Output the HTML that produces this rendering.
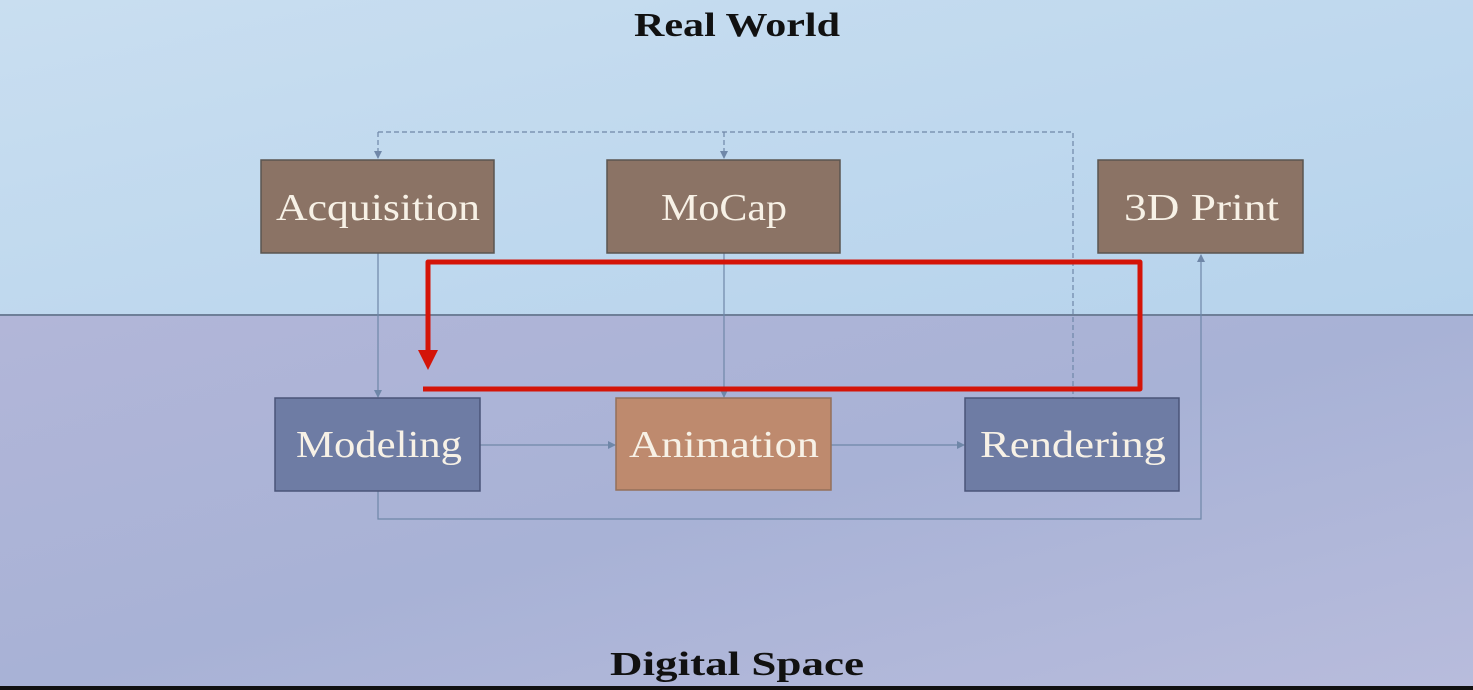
<!DOCTYPE html>
<html><head><meta charset="utf-8"><style>
html,body{margin:0;padding:0;width:1473px;height:690px;overflow:hidden}
svg{display:block}
</style></head><body>
<svg width="1473" height="690" viewBox="0 0 1473 690" xmlns="http://www.w3.org/2000/svg">
<defs>
<linearGradient id="top" x1="0" y1="0" x2="1" y2="1"><stop offset="0" stop-color="#c9def0"/><stop offset="1" stop-color="#b6d3ec"/></linearGradient>
<linearGradient id="bot" x1="0" y1="0" x2="1" y2="1"><stop offset="0" stop-color="#b2b6d8"/><stop offset="0.5" stop-color="#a8b2d6"/><stop offset="1" stop-color="#b8bcdc"/></linearGradient>
<marker id="a" markerWidth="8" markerHeight="8" refX="7" refY="4" orient="auto" markerUnits="userSpaceOnUse"><path d="M0,0 L8,4 L0,8 z" fill="#6f87a8"/></marker>
</defs>
<rect x="0" y="0" width="1473" height="315" fill="url(#top)"/>
<rect x="0" y="315" width="1473" height="375" fill="url(#bot)"/>
<line x1="0" y1="315" x2="1473" y2="315" stroke="#6e7f98" stroke-width="2"/>
<rect x="0" y="686" width="1473" height="4" fill="#111"/>
<g font-family="'Liberation Serif',serif" font-weight="bold" font-size="34" fill="#111" lengthAdjust="spacingAndGlyphs">
<text x="634" y="36" textLength="206" lengthAdjust="spacingAndGlyphs">Real World</text>
<text x="610" y="675" textLength="254" lengthAdjust="spacingAndGlyphs">Digital Space</text>
</g>
<g fill="none" stroke="#6f87a8" stroke-width="1.2">
<path d="M378,132 H1073 V398" stroke-dasharray="5,3"/>
<path d="M378,132 V158" stroke-dasharray="5,3" marker-end="url(#a)"/>
<path d="M724,132 V158" stroke-dasharray="5,3" marker-end="url(#a)"/>
<path d="M378,253 V397" marker-end="url(#a)"/>
<path d="M724,253 V397" marker-end="url(#a)"/>
<path d="M480,445 H615" marker-end="url(#a)"/>
<path d="M831,445 H964" marker-end="url(#a)"/>
<path d="M378,491 V519 H1201 V255" marker-end="url(#a)"/>
</g>
<g stroke-width="1.5">
<rect x="261" y="160" width="233" height="93" fill="#8b7365" stroke="#5a5550"/>
<rect x="607" y="160" width="233" height="93" fill="#8b7365" stroke="#5a5550"/>
<rect x="1098" y="160" width="205" height="93" fill="#8b7365" stroke="#5a5550"/>
<rect x="275" y="398" width="205" height="93" fill="#6e7ca4" stroke="#4a5478"/>
<rect x="616" y="398" width="215" height="92" fill="#be8a6e" stroke="#94705a"/>
<rect x="965" y="398" width="214" height="93" fill="#6e7ca4" stroke="#4a5478"/>
</g>
<g font-family="'Liberation Serif',serif" font-size="38" fill="#f7f1e6">
<text x="276" y="220" textLength="204" lengthAdjust="spacingAndGlyphs">Acquisition</text>
<text x="661" y="220" textLength="126" lengthAdjust="spacingAndGlyphs">MoCap</text>
<text x="1124" y="220" textLength="155" lengthAdjust="spacingAndGlyphs">3D Print</text>
<text x="296" y="457" textLength="166" lengthAdjust="spacingAndGlyphs">Modeling</text>
<text x="629" y="457" textLength="190" lengthAdjust="spacingAndGlyphs">Animation</text>
<text x="980" y="457" textLength="186" lengthAdjust="spacingAndGlyphs">Rendering</text>
</g>
<path d="M423,389 H1140 V262 H428 V352" fill="none" stroke="#d41408" stroke-width="5" stroke-linejoin="round"/>
<path d="M418,350 L438,350 L428,370 z" fill="#d41408"/>
</svg>
</body></html>
